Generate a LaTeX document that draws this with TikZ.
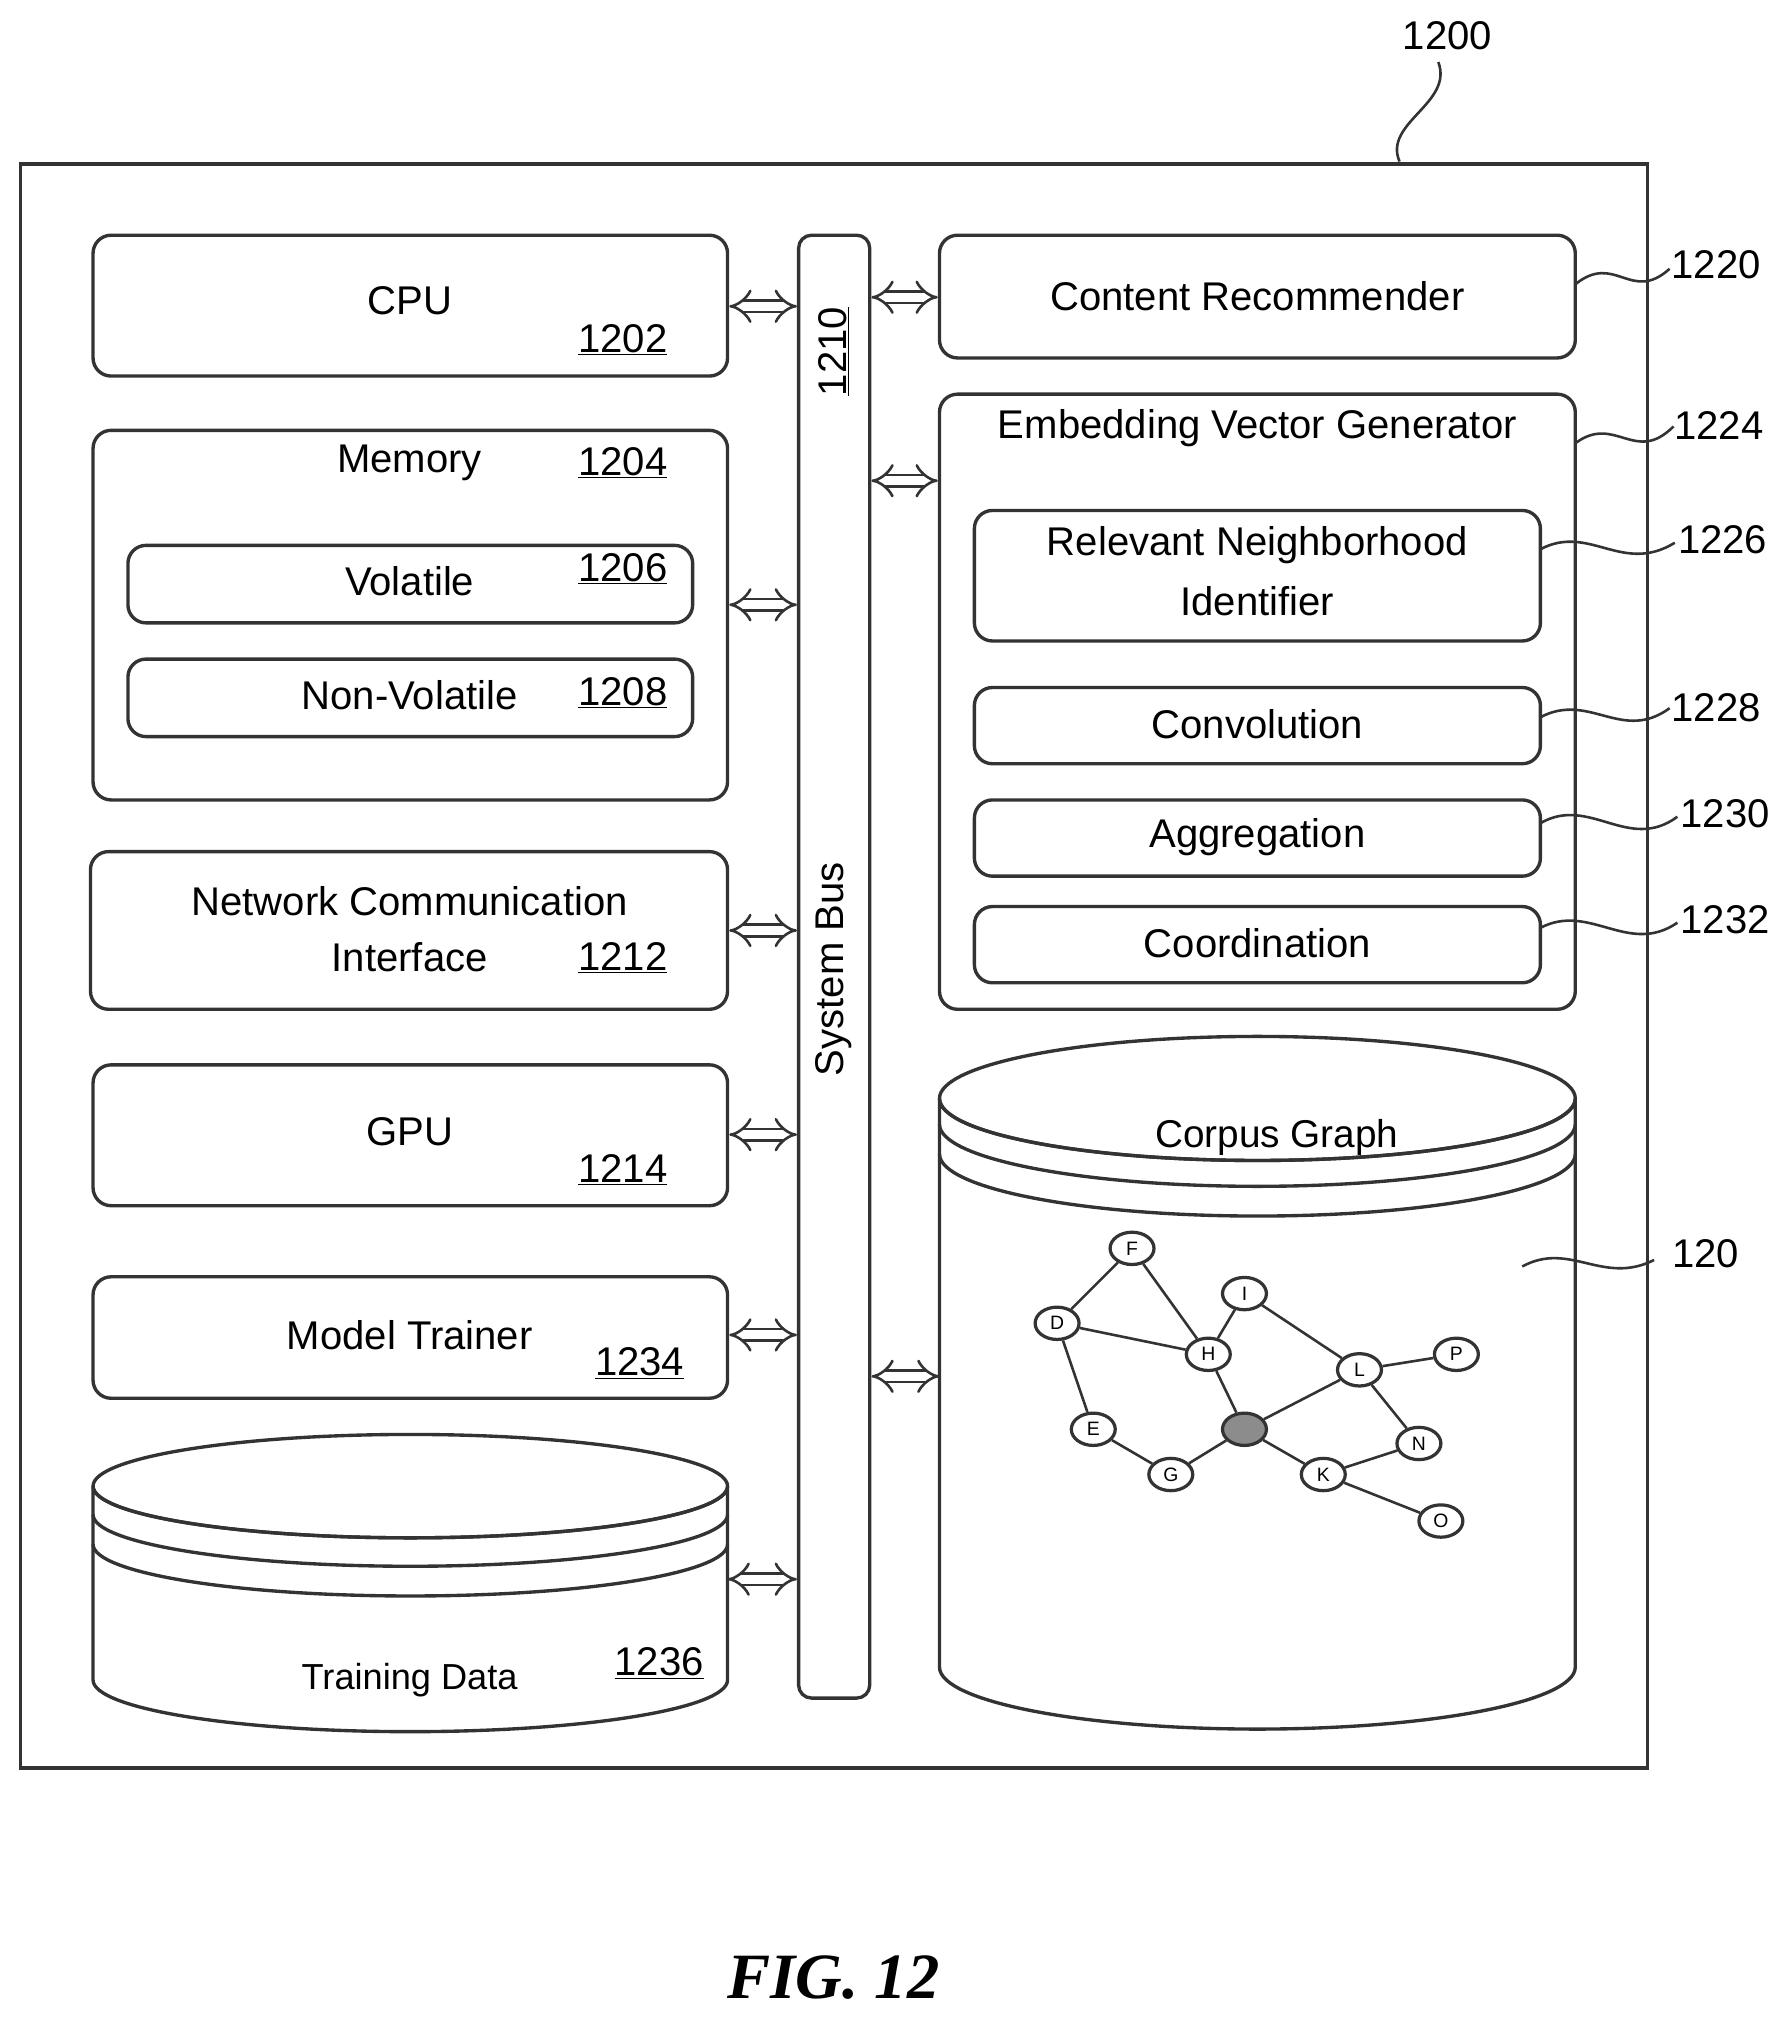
\documentclass[tikz,border=0pt]{standalone}
\usepackage{fontspec}
\setmainfont{Liberation Sans}
\newfontfamily\figfont{Liberation Serif}
\usetikzlibrary{arrows.meta,shapes.geometric}
\begin{document}
\begin{tikzpicture}[x=1pt,y=-1pt,
  line width=2.6pt, draw=black!80,
  box/.style={draw=black!80,line width=2.6pt,rounded corners=14pt,inner sep=0pt},
  txt/.style={font=\fontsize{31}{37}\selectfont,inner sep=0pt},
  num/.style={font=\fontsize{31}{37}\selectfont,inner sep=0pt},
  dar/.style={double=white,double distance=7pt,line width=2pt,{Implies}-{Implies}},
  sq/.style={line width=2pt},
  gn/.style={draw=black!80,ellipse,line width=2.5pt,minimum width=34pt,minimum height=25pt,inner sep=0pt,font=\fontsize{15}{15}\selectfont,fill=white},
  ge/.style={line width=2pt}]
\useasboundingbox (0,0) rectangle (1385,1567);
\fill[white] (0,0) rectangle (1385,1567);
\node[draw=black!80,line width=2.6pt,minimum width=1259pt,minimum height=1241pt,inner sep=0pt] (outer) at (645.5,747.5) {};
% left column
\node[box,minimum width=491pt,minimum height=109pt] (cpu) at (317.5,236.5) {};
\node[txt] (cput) at (317,233) {CPU};
\node[num] (n1202) at (482,263) {\underline{1202}};
\node[box,minimum width=491pt,minimum height=286pt] (mem) at (317.5,476) {};
\node[txt] (memt) at (317,358) {Memory};
\node[num] (n1204) at (482,358) {\underline{1204}};
\node[box,minimum width=437pt,minimum height=60pt] (vol) at (317.5,452) {};
\node[txt] (volt) at (317,450) {Volatile};
\node[num] (n1206) at (482,440) {\underline{1206}};
\node[box,minimum width=437pt,minimum height=60pt] (nvol) at (317.5,540) {};
\node[txt] (nvolt) at (317,538) {Non-Volatile};
\node[num] (n1208) at (482,536) {\underline{1208}};
\node[box,minimum width=493pt,minimum height=122pt] (net) at (316.5,720) {};
\node[txt] (nett1) at (317,697) {Network Communication};
\node[txt] (nett2) at (317,741) {Interface};
\node[num] (n1212) at (482,741) {\underline{1212}};
\node[box,minimum width=491pt,minimum height=109pt] (gpu) at (317.5,878.5) {};
\node[txt] (gput) at (317,876) {GPU};
\node[num] (n1214) at (482,905) {\underline{1214}};
\node[box,minimum width=491pt,minimum height=94pt] (mt) at (317.5,1035) {};
\node[txt] (mtt) at (317,1033) {Model Trainer};
\node[num] (n1234) at (495,1055) {\underline{1234}};
% training data cylinder
\draw[fill=white] (72,1150) arc[start angle=180,end angle=0,x radius=245.5,y radius=40] -- (563,1300) arc[start angle=0,end angle=180,x radius=245.5,y radius=40] -- cycle;
\draw (72,1150) arc[start angle=180,end angle=-180,x radius=245.5,y radius=40];
\draw (72,1172) arc[start angle=180,end angle=0,x radius=245.5,y radius=40];
\draw (72,1195) arc[start angle=180,end angle=0,x radius=245.5,y radius=40];
\node[coordinate] (td) at (563,1222) {};
\node[font=\fontsize{28}{34}\selectfont,inner sep=0pt] (tdt) at (317,1300) {Training Data};
\node[num] (n1236) at (510,1287) {\underline{1236}};
% system bus
\node[box,minimum width=55pt,minimum height=1132pt,rounded corners=10pt] (bus) at (645.5,748) {};
\node[num,rotate=90] (n1210) at (645,272) {\underline{1210}};
\node[txt,rotate=90] (bust) at (645,750) {System Bus};
% right column
\node[box,minimum width=492pt,minimum height=95pt] (cr) at (973,229.5) {};
\node[txt] (crt) at (973,229) {Content Recommender};
\node[box,minimum width=492pt,minimum height=476pt] (evg) at (973,543) {};
\node[txt] (evgt) at (973,331) {Embedding Vector Generator};
\node[box,minimum width=438pt,minimum height=101pt] (rni) at (973,445.5) {};
\node[txt] (rnit1) at (973,422) {Relevant Neighborhood};
\node[txt] (rnit2) at (973,465) {Identifier};
\node[box,minimum width=438pt,minimum height=59pt] (conv) at (973,561.5) {};
\node[txt] (convt) at (973,560) {Convolution};
\node[box,minimum width=438pt,minimum height=59pt] (agg) at (973,648.5) {};
\node[txt] (aggt) at (973,648) {Aggregation};
\node[box,minimum width=438pt,minimum height=59pt] (coord) at (973,731) {};
\node[txt] (coordt) at (973,730) {Coordination};
% corpus cylinder
\draw[fill=white] (727,850) arc[start angle=180,end angle=0,x radius=246,y radius=48] -- (1219,1290) arc[start angle=0,end angle=180,x radius=246,y radius=48] -- cycle;
\draw (727,850) arc[start angle=180,end angle=-180,x radius=246,y radius=48];
\draw (727,870) arc[start angle=180,end angle=0,x radius=246,y radius=48];
\draw (727,893) arc[start angle=180,end angle=0,x radius=246,y radius=48];
\node[coordinate] (cg) at (727,1065) {};
\node[font=\fontsize{30}{36}\selectfont,inner sep=0pt] (cgt) at (988,880) {Corpus Graph};
% graph
\node[gn] (F) at (876,966) {F};
\node[gn] (D) at (818,1024) {D};
\node[gn] (H) at (935,1048) {H};
\node[gn] (I) at (963,1001) {I};
\node[gn] (E) at (846,1106) {E};
\node[gn] (G) at (906,1141) {G};
\node[gn,fill=black!45] (J) at (963,1106) {};
\node[gn] (L) at (1052,1060) {L};
\node[gn] (P) at (1127,1048) {P};
\node[gn] (N) at (1098,1117) {N};
\node[gn] (K) at (1024,1141) {K};
\node[gn] (O) at (1115,1177) {O};
\foreach \a/\b in {F/D,F/H,D/H,D/E,I/H,I/L,H/J,L/J,L/P,L/N,E/G,G/J,J/K,K/N,K/O}
  \draw[ge] (\a) -- (\b);
% arrows
\draw[dar] (cpu.east |- 0,237) -- (bus.west |- 0,237);
\draw[dar] (mem.east |- 0,468) -- (bus.west |- 0,468);
\draw[dar] (net.east |- 0,720) -- (bus.west |- 0,720);
\draw[dar] (gpu.east |- 0,878) -- (bus.west |- 0,878);
\draw[dar] (mt.east |- 0,1033) -- (bus.west |- 0,1033);
\draw[dar] (td) -- (bus.west |- td);
\draw[dar] (bus.east |- 0,230) -- (cr.west |- 0,230);
\draw[dar] (bus.east |- 0,372) -- (evg.west |- 0,372);
\draw[dar] (bus.east |- cg) -- (cg);
% labels
\node[txt] (l1200) at (1120,28) {1200};
\node[txt] (l1220) at (1328,205) {1220};
\node[txt] (l1224) at (1330,329) {1224};
\node[txt] (l1226) at (1333,418) {1226};
\node[txt] (l1228) at (1328,548) {1228};
\node[txt] (l1230) at (1335,630) {1230};
\node[txt] (l1232) at (1335,712) {1232};
\node[txt] (l120) at (1320,970) {120};
\draw[sq] (1083,125) .. controls (1070,95) and (1125,80) .. (1113,48);
\draw[sq] (1219,220) .. controls (1250,195) and (1262,235) .. (1292,208);
\draw[sq] (1219,343) .. controls (1250,320) and (1265,360) .. (1295,330);
\draw[sq] (1192,425) .. controls (1230,405) and (1255,445) .. (1296,420);
\draw[sq] (1192,555) .. controls (1230,535) and (1255,575) .. (1292,548);
\draw[sq] (1192,637) .. controls (1230,615) and (1260,660) .. (1298,632);
\draw[sq] (1192,718) .. controls (1230,698) and (1260,740) .. (1298,714);
\draw[sq] (1178,980) .. controls (1215,960) and (1240,995) .. (1280,975);
\node[font=\figfont\fontsize{50}{56}\selectfont\bfseries\itshape,inner sep=0pt] (fig) at (645,1530) {FIG. 12};
\end{tikzpicture}
\end{document}
